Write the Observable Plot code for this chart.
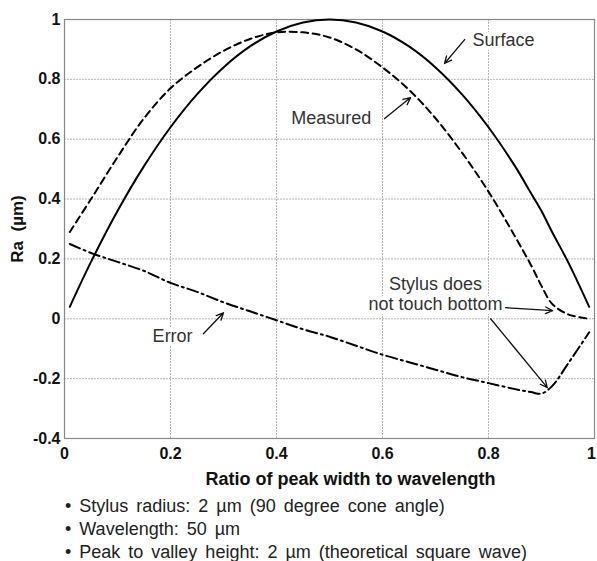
<!DOCTYPE html>
<html>
<head>
<meta charset="utf-8">
<script src="https://cdn.jsdelivr.net/npm/d3@7"></script>
<script src="https://cdn.jsdelivr.net/npm/@observablehq/plot@0.6"></script>
<style>
  body { margin: 0; background: #fff; font-family: "Liberation Sans", Arial, sans-serif; }
  #caption { font-size: 18px; line-height: 23px; color: #222; padding-left: 65px; margin-top: 5px; word-spacing: 3px; }
</style>
</head>
<body>
<div id="chart"></div>
<div id="caption"></div>
<script>
const ratio    = [0.01,0.05,0.1,0.15,0.2,0.25,0.3,0.35,0.4,0.45,0.5,0.55,0.6,0.65,0.7,0.75,0.8,0.85,0.88,0.9,0.92,0.95,0.99];
const surface  = [0.04,0.19,0.36,0.51,0.64,0.75,0.84,0.91,0.96,0.99,1.0,0.99,0.96,0.91,0.84,0.75,0.64,0.51,0.42,0.36,0.29,0.19,0.04];
const measured = [0.29,0.40,0.54,0.67,0.77,0.84,0.895,0.935,0.957,0.957,0.94,0.90,0.84,0.765,0.67,0.555,0.425,0.275,0.18,0.11,0.05,0.015,0.0];
const errorV   = [0.25,0.22,0.19,0.16,0.12,0.09,0.055,0.025,-0.005,-0.035,-0.06,-0.09,-0.12,-0.145,-0.17,-0.195,-0.215,-0.235,-0.245,-0.25,-0.225,-0.15,-0.045];

const xTicks = [0,0.2,0.4,0.6,0.8,1];
const yTicks = [-0.4,-0.2,0,0.2,0.4,0.6,0.8,1];
const xLabel = "Ratio of peak width to wavelength";
const yLabel = "Ra\u00a0 (µm)";

const labelsStart  = [{x: 0.77, y: 0.93, text: "Surface"}];
const labelsEnd    = [{x: 0.579, y: 0.669, text: "Measured"}];
const labelsMiddle = [
  {x: 0.204, y: -0.057, text: "Error"},
  {x: 0.70, y: 0.117, text: "Stylus does"},
  {x: 0.70, y: 0.05, text: "not touch bottom"}
];
const arrows = [
  {x1: 0.755, y1: 0.933, x2: 0.717, y2: 0.853},
  {x1: 0.604, y1: 0.669, x2: 0.653, y2: 0.739},
  {x1: 0.262, y1: -0.05, x2: 0.30, y2: 0.02},
  {x1: 0.832, y1: 0.037, x2: 0.921, y2: 0.027},
  {x1: 0.804, y1: 0.0, x2: 0.911, y2: -0.23}
];
const captionLines = [
  "• Stylus radius: 2 µm (90 degree cone angle)",
  "• Wavelength: 50 µm",
  "• Peak to valley height: 2 µm (theoretical square wave)"
];

const rows = ratio.map((r, i) => ({r, surface: surface[i], measured: measured[i], error: errorV[i]}));
const font = "Liberation Sans, Arial, sans-serif";
const textOpts = {x: "x", y: "y", text: "text", fontSize: 18, fill: "#333", stroke: "white", strokeWidth: 8, paintOrder: "stroke", lineAnchor: "middle"};
const fmt = d => String(d);

const chart = Plot.plot({
  width: 597,
  height: 490,
  marginLeft: 64,
  marginRight: 3,
  marginTop: 19,
  marginBottom: 52,
  style: {fontFamily: font, background: "white", color: "#111"},
  x: {domain: [0, 1]},
  y: {domain: [-0.4, 1]},
  marks: [
    Plot.gridX(xTicks, {stroke: "#999", strokeOpacity: 0.7, strokeDasharray: "2,1"}),
    Plot.gridY(yTicks, {stroke: "#999", strokeOpacity: 0.7, strokeDasharray: "2,1"}),
    Plot.frame({stroke: "#888", strokeWidth: 1.2}),
    Plot.axisX(xTicks.slice(0, -1), {tickSize: 0, tickPadding: 9, fontSize: 16, fontWeight: "bold", label: null, tickFormat: fmt}),
    Plot.axisX(xTicks.slice(-1), {tickSize: 0, tickPadding: 9, dx: -3, fontSize: 16, fontWeight: "bold", label: null, tickFormat: fmt}),
    Plot.axisY(yTicks, {tickSize: 0, tickPadding: 4, fontSize: 16, fontWeight: "bold", label: null, tickFormat: fmt}),
    Plot.text([xLabel], {frameAnchor: "bottom", dy: 41, dx: 21, lineAnchor: "middle", fontSize: 18, fontWeight: "bold", fill: "#111"}),
    Plot.text([yLabel], {frameAnchor: "left", dx: -47, rotate: -90, textAnchor: "middle", lineAnchor: "middle", fontSize: 17, fontWeight: "bold", fill: "#111"}),
    Plot.text(labelsStart, {...textOpts, textAnchor: "start"}),
    Plot.text(labelsEnd, {...textOpts, textAnchor: "end"}),
    Plot.text(labelsMiddle, {...textOpts, textAnchor: "middle"}),
    Plot.line(rows, {x: "r", y: "surface", stroke: "black", strokeWidth: 2, curve: "catmull-rom"}),
    Plot.line(rows, {x: "r", y: "measured", stroke: "black", strokeWidth: 2, strokeDasharray: "7,4.5", curve: "catmull-rom"}),
    Plot.line(rows, {x: "r", y: "error", stroke: "black", strokeWidth: 2, strokeDasharray: "11,4,2,4", curve: "catmull-rom"}),
    Plot.arrow(arrows, {x1: "x1", y1: "y1", x2: "x2", y2: "y2", stroke: "#111", strokeWidth: 1.3, headLength: 9, headAngle: 50, bend: 0})
  ]
});
document.getElementById("chart").appendChild(chart);
document.getElementById("caption").innerHTML = captionLines.map(s => `<div>${s}</div>`).join("");
</script>
</body>
</html>
